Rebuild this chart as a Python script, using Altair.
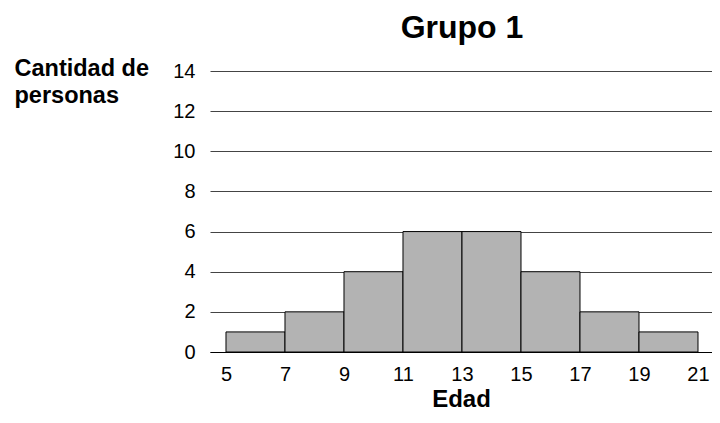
import altair as alt
import pandas as pd

title_text = "Grupo 1"
bin_start = [5, 7, 9, 11, 13, 15, 17, 19]
bin_end = [7, 9, 11, 13, 15, 17, 19, 21]
counts = [1, 2, 4, 6, 6, 4, 2, 1]
x_ticks = [5, 7, 9, 11, 13, 15, 17, 19, 21]
y_ticks = [0, 2, 4, 6, 8, 10, 12, 14]

df = pd.DataFrame({"start": bin_start, "end": bin_end, "count": counts})

FONT = "Liberation Sans"

bars = alt.Chart(df).mark_bar(
    color="#b3b3b3", stroke="black", strokeWidth=1
).encode(
    x=alt.X(
        "start:Q",
        scale=alt.Scale(domain=[4.458, 21.475], nice=False, zero=False),
        axis=alt.Axis(
            values=x_ticks, ticks=False, grid=False, domain=True,
            domainColor="black", domainWidth=1,
            labelFont=FONT, labelFontSize=20, labelColor="black",
            labelPadding=12, labelFlush=False, labelOverlap=False,
            title="Edad", titleFont=FONT, titleFontSize=24,
            titleFontWeight="bold", titleColor="black",
            titleBaseline="alphabetic", titleY=54,
        ),
    ),
    x2="end:Q",
    y=alt.Y(
        "count:Q",
        scale=alt.Scale(domain=[0, 14], nice=False),
        axis=alt.Axis(
            values=y_ticks, ticks=False, domain=False, grid=True,
            gridColor="#444444", gridWidth=1,
            labelFont=FONT, labelFontSize=20, labelColor="black",
            labelPadding=15,
            title=["Cantidad de", "personas"], titleFont=FONT,
            titleFontSize=23.5, titleFontWeight="bold", titleColor="black",
            titleAngle=0, titleAlign="left", titleBaseline="alphabetic",
            titleX=-196, titleY=4, titleLineHeight=27.5,
        ),
    ),
    y2=alt.datum(0),
)

title = alt.Chart(pd.DataFrame({"t": [title_text]})).mark_text(
    font=FONT, fontSize=32, fontWeight="bold", color="black",
    align="center", baseline="alphabetic",
).encode(
    text="t:N",
    x=alt.value(252),
    y=alt.value(-33),
)

chart = alt.layer(bars, title).properties(
    width=502,
    height=281,
    autosize=alt.AutoSizeParams(type="none"),
    padding={"left": 202, "top": 63, "right": 0, "bottom": 58},
).configure_view(stroke=None)

chart.save("out.html", embed_options={"renderer": "svg", "actions": False})
